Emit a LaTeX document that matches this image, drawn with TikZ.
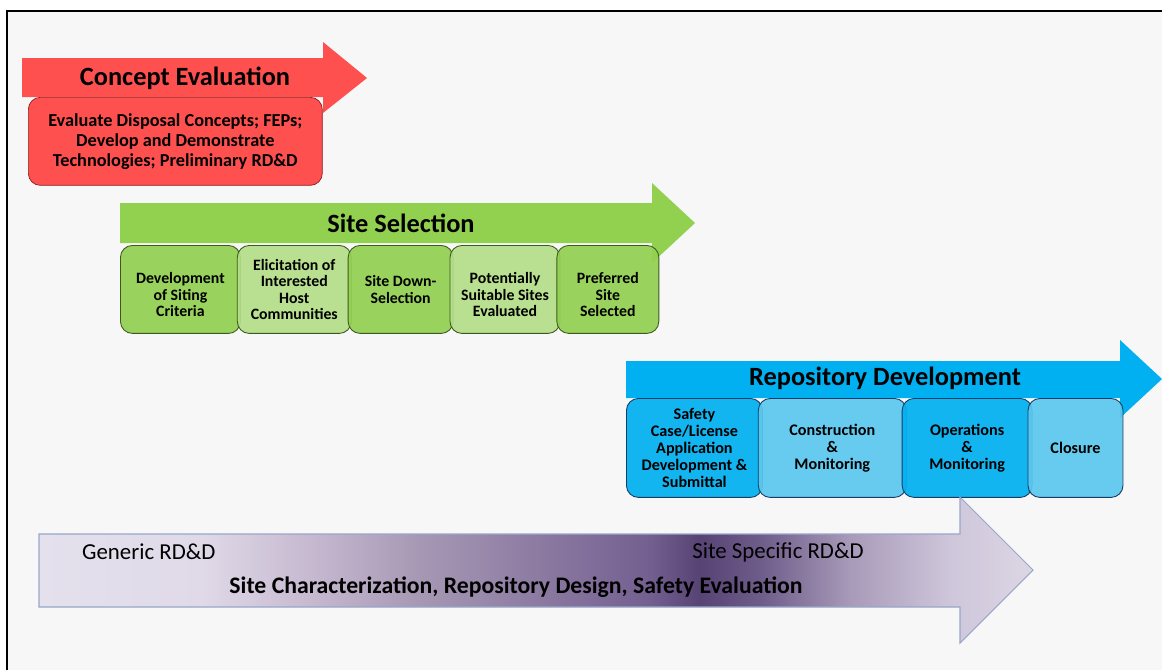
\documentclass[tikz,border=0pt]{standalone}
\usepackage{fontspec}
\setmainfont{Carlito}
\usetikzlibrary{positioning}
\usepackage{xcolor}

\definecolor{ceRed}{HTML}{FF5050}
\definecolor{ceEdge}{HTML}{8C1E1E}
\definecolor{ssGreen}{HTML}{92D050}
\definecolor{ssLight}{HTML}{B4DE88}
\definecolor{ssEdge}{HTML}{3C5A1E}
\definecolor{rdBlue}{HTML}{00B0F0}
\definecolor{rdLight}{HTML}{5BC8F0}
\definecolor{rdEdge}{HTML}{143C64}
\definecolor{rdLine}{HTML}{98A6C8}
\definecolor{pA}{HTML}{E4E0EC}
\definecolor{pB}{HTML}{E0DAE8}
\definecolor{pC}{HTML}{C4B6CE}
\definecolor{pD}{HTML}{A698B4}
\definecolor{pE}{HTML}{7F6B98}
\definecolor{pF}{HTML}{736090}
\definecolor{pG}{HTML}{574374}
\definecolor{pH}{HTML}{6E5C8A}
\definecolor{pI}{HTML}{A89AB9}
\definecolor{pJ}{HTML}{CEC6DA}
\definecolor{pK}{HTML}{DCD6E4}

\pgfdeclarehorizontalshading{rdshade}{100bp}{color(0bp)=(pA); color(25bp)=(pA);
  color(33.1bp)=(pB); color(39.1bp)=(pC); color(44.2bp)=(pD); color(53.2bp)=(pE);
  color(55.7bp)=(pF); color(58.2bp)=(pG); color(61.3bp)=(pH); color(65.8bp)=(pI);
  color(70.8bp)=(pJ); color(75bp)=(pK); color(100bp)=(pK)}

\begin{document}
\begin{tikzpicture}[x=0.02cm,y=-0.02cm,
  title/.style={font=\fontsize{15}{18}\selectfont\bfseries},
  stage/.style={draw=#1, rounded corners=0.24cm, align=center, inner sep=1pt,
    line width=0.5pt},
  ssbox/.style={stage=ssEdge, fill=ssGreen, minimum height=1.76cm,
    font=\fontsize{9}{9.2}\selectfont\bfseries},
  rdbox/.style={stage=rdEdge, fill=rdBlue, minimum height=1.98cm,
    font=\fontsize{9.2}{9.8}\selectfont\bfseries}]
\useasboundingbox (0,0) rectangle (1162,670);
\fill[gray!6] (7,11) rectangle (1162,670);
\draw[line width=1.7pt] (7,670) -- (7,11) -- (1162,11);

% concept evaluation
\fill[ceRed] (22,58) -- (323,58) -- (323,42) -- (367,78) -- (323,113) -- (323,97) -- (22,97) -- cycle;
\node[title] (cetitle) at (185,78) {Concept Evaluation};
\node[draw=ceEdge, fill=ceRed, rounded corners=0.24cm, align=center, anchor=north west,
  minimum width=5.88cm, minimum height=1.76cm, font=\fontsize{10.4}{11.5}\selectfont\bfseries]
  (cebox) at (28,97) {Evaluate Disposal Concepts; FEPs;\\Develop and Demonstrate\\Technologies; Preliminary RD\&D};

% site selection
\fill[ssGreen] (120,203) -- (652,203) -- (652,183) -- (695,223) -- (652,263) -- (652,243) -- (120,243) -- cycle;
\node[title] (sstitle) at (401,223) {Site Selection};
\begin{scope}[node distance=-0.08cm, fill opacity=0.92, text opacity=1]
\node[ssbox, minimum width=2.4cm, anchor=north west] (criteria) at (120,245) {\mbox{}\\[3pt]Development\\of Siting\\Criteria};
\node[ssbox, fill=ssLight, minimum width=2.28cm, right=of criteria] (hosts) {Elicitation of\\Interested\\Host\\Communities};
\node[ssbox, minimum width=2.1cm, right=of hosts] (downsel) {Site Down-\\Selection};
\node[ssbox, fill=ssLight, minimum width=2.2cm, right=of downsel] (suitable) {\mbox{}\\[3pt]Potentially\\Suitable Sites\\Evaluated};
\node[ssbox, minimum width=2.04cm, right=of suitable] (preferred) {\mbox{}\\[3pt]Preferred\\Site\\Selected};
\end{scope}

% repository development
\fill[rdBlue] (626,361) -- (1120,361) -- (1120,340) -- (1162,379) -- (1120,418) -- (1120,398) -- (626,398) -- cycle;
\node[title] (rdtitle) at (885,378) {Repository Development};
\begin{scope}[node distance=-0.1cm, fill opacity=0.92, text opacity=1]
\node[rdbox, minimum width=2.72cm, anchor=north west] (license) at (626,398) {Safety\\Case/License\\Application\\Development \&\\Submittal};
\node[rdbox, fill=rdLight, minimum width=2.96cm, right=of license] (construct) {Construction\\\&\\Monitoring};
\node[rdbox, minimum width=2.6cm, right=of construct] (operate) {Operations\\\&\\Monitoring};
\node[rdbox, fill=rdLight, minimum width=1.9cm, right=of operate] (closure) {Closure};
\end{scope}

% RD&D
\shade[shading=rdshade, draw=rdLine, line width=0.6pt] (39,534) -- (960,534) -- (960,497) -- (1033,570) -- (960,643) -- (960,607) -- (39,607) -- cycle;
\node[anchor=west, font=\fontsize{13}{15}\selectfont] (generic) at (76,552) {Generic RD\&D};
\node[font=\fontsize{13}{15}\selectfont] (specific) at (778,552) {Site Specific RD\&D};
\node[font=\fontsize{13.5}{15}\selectfont\bfseries] (charact) at (516,587) {Site Characterization, Repository Design, Safety Evaluation};
\end{tikzpicture}
\end{document}
